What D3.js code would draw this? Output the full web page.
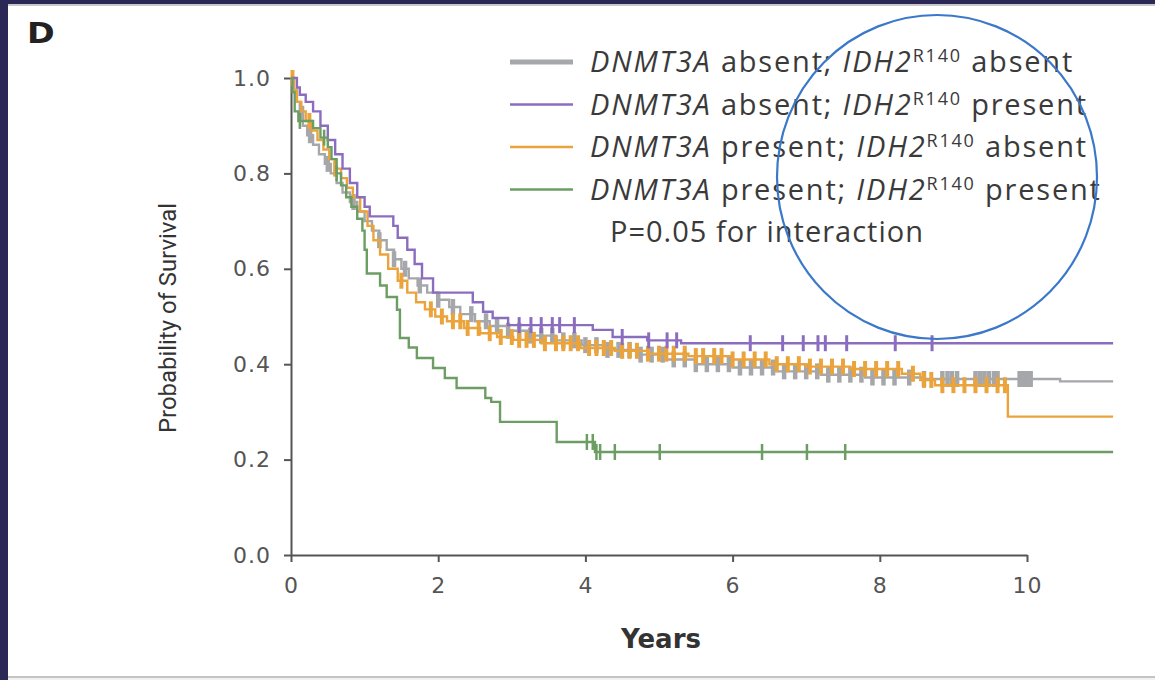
<!DOCTYPE html>
<html>
<head>
<meta charset="utf-8">
<script src="https://cdn.jsdelivr.net/npm/d3@7"></script>
<style>
	body { margin: 0; background: #fff; }
	svg { display: block; }
	.tick text { font-family: 'DejaVu Sans', Verdana, sans-serif; font-size: 22px; fill: #555; letter-spacing: 1px; }
	.axis path, .axis line { stroke: #555; stroke-width: 2; }
	.legend text { font-family: 'Open Sans', 'Noto Sans', sans-serif; font-size: 29px; fill: #3a3a3a; letter-spacing: 1.8px; }
	.legend text.pval { letter-spacing: 1px; }
</style>
</head>
<body>
<div id="chart"></div>
<script>
let width = 1155
let height = 680

// series: [years, survival] after each step
let grayPts = [[0,1],[0.04,0.975],[0.08,0.95],[0.12,0.925],[0.16,0.9],[0.22,0.88],[0.3,0.86],[0.38,0.84],[0.46,0.82],[0.54,0.8],[0.62,0.78],[0.7,0.76],[0.8,0.74],[0.9,0.72],[1.0,0.7],[1.1,0.68],[1.2,0.66],[1.3,0.64],[1.4,0.62],[1.5,0.6],[1.6,0.58],[1.72,0.565],[1.85,0.55],[2.0,0.535],[2.15,0.52],[2.3,0.505],[2.5,0.49],[2.7,0.48],[2.95,0.47],[3.25,0.46],[3.6,0.45],[3.95,0.44],[4.3,0.43],[4.7,0.42],[5.1,0.41],[5.5,0.4],[6.0,0.393],[6.6,0.385],[7.2,0.378],[7.8,0.372],[8.6,0.369],[10.45,0.364]]
let purplePts = [[0,1],[0.08,0.98],[0.12,0.965],[0.2,0.95],[0.3,0.93],[0.4,0.9],[0.5,0.87],[0.6,0.84],[0.7,0.81],[0.8,0.78],[0.9,0.75],[1.0,0.73],[1.07,0.71],[1.39,0.69],[1.45,0.665],[1.58,0.64],[1.68,0.61],[1.78,0.58],[1.93,0.55],[2.47,0.53],[2.61,0.51],[2.74,0.497],[2.95,0.482],[4.1,0.472],[4.37,0.457],[4.84,0.45],[5.3,0.444]]
let orangePts = [[0,1],[0.04,0.975],[0.08,0.95],[0.14,0.93],[0.2,0.91],[0.28,0.89],[0.36,0.87],[0.44,0.85],[0.52,0.83],[0.6,0.81],[0.68,0.79],[0.76,0.77],[0.84,0.75],[0.94,0.72],[1.04,0.69],[1.12,0.66],[1.21,0.63],[1.32,0.6],[1.45,0.575],[1.58,0.55],[1.7,0.53],[1.82,0.515],[1.96,0.5],[2.12,0.49],[2.35,0.476],[2.57,0.465],[2.8,0.457],[3.02,0.451],[3.4,0.444],[3.93,0.434],[4.4,0.428],[4.84,0.422],[5.4,0.417],[6.0,0.41],[6.5,0.4],[7.0,0.395],[7.6,0.39],[8.3,0.38],[8.55,0.367],[8.75,0.356],[9.74,0.29]]
let greenPts = [[0,1],[0.02,0.97],[0.05,0.93],[0.1,0.91],[0.3,0.895],[0.4,0.875],[0.5,0.855],[0.55,0.83],[0.62,0.8],[0.68,0.775],[0.75,0.75],[0.82,0.73],[0.9,0.705],[0.97,0.68],[1.0,0.64],[1.03,0.59],[1.21,0.565],[1.3,0.541],[1.44,0.514],[1.48,0.455],[1.6,0.435],[1.71,0.413],[1.93,0.392],[2.09,0.371],[2.25,0.35],[2.64,0.329],[2.72,0.321],[2.84,0.279],[3.61,0.237],[4.13,0.216]]

// censoring times
let grayCens = [0.15,0.26,0.5,0.85,1.2,1.4,1.55,1.75,2.0,2.2,2.45,2.65,2.8,2.95,3.1,3.25,3.4,3.55,3.7,3.85,4.0,4.15,4.3,4.45,4.6,4.75,4.9,5.05,5.2,5.35,5.5,5.65,5.8,5.95,6.1,6.25,6.4,6.55,6.7,6.85,7.0,7.15,7.3,7.45,7.6,7.75,7.9,8.05,8.2,8.4,8.6,8.85,8.92,8.98,9.05,9.3,9.36,9.42,9.48,9.55,9.6,9.9,9.95,10.0,10.05]
let orangeCens = [0.02,0.25,0.6,1.5,1.9,2.05,2.2,2.3,2.4,2.55,2.7,2.85,3.0,3.1,3.2,3.3,3.45,3.6,3.7,3.8,3.9,4.05,4.15,4.25,4.35,4.5,4.6,4.7,4.85,5.0,5.1,5.2,5.35,5.5,5.6,5.75,5.85,6.0,6.15,6.3,6.45,6.6,6.75,6.9,7.05,7.2,7.35,7.5,7.65,7.8,7.95,8.1,8.25,8.45,8.6,8.7,8.85,9.0,9.15,9.3,9.45,9.6,9.7]
let purpleCens = [3.1,3.26,3.4,3.55,3.65,3.85,4.5,4.86,5.11,5.24,6.24,6.68,6.96,7.16,7.26,7.55,8.21,8.71]
let greenCens = [0.12,0.45,0.62,4.02,4.1,4.15,4.2,4.4,5.01,6.4,7.01,7.53]

let lastYear = 11.17
let yTicks = [0, 0.2, 0.4, 0.6, 0.8, 1.0]
let xTicks = [0, 2, 4, 6, 8, 10]

let groups = [
	{ 'dnmt': 'absent', 'idh': 'absent', 'pts': grayPts, 'cens': grayCens, 'color': '#a5a7aa', 'cw': 4.5 },
	{ 'dnmt': 'absent', 'idh': 'present', 'pts': purplePts, 'cens': purpleCens, 'color': '#8b6dbf', 'cw': 3 },
	{ 'dnmt': 'present', 'idh': 'absent', 'pts': orangePts, 'cens': orangeCens, 'color': '#eba33c', 'cw': 4 },
	{ 'dnmt': 'present', 'idh': 'present', 'pts': greenPts, 'cens': greenCens, 'color': '#6c9e64', 'cw': 2.5 },
]
let drawOrder = [0, 2, 1, 3]

let xScale = d3.scaleLinear()
	.domain([0,10])
	.range([291,1027])

let yScale = d3.scaleLinear()
	.domain([0,1])
	.range([555,78])

let svg = d3.select('#chart').append('svg')
	.attr('width',width)
	.attr('height',height)

// frame
svg.append('rect').attr('x',0).attr('y',0).attr('width',width).attr('height',4).attr('fill','#2b2757')
svg.append('rect').attr('x',0).attr('y',4).attr('width',width).attr('height',2).attr('fill','#c9c9cc')
svg.append('rect').attr('x',0).attr('y',0).attr('width',8).attr('height',height).attr('fill','#2b2757')
svg.append('rect').attr('x',8).attr('y',676).attr('width',width).attr('height',2).attr('fill','#c4c4c6')
svg.append('rect').attr('x',8).attr('y',678).attr('width',width).attr('height',2).attr('fill','#f2f2f2')

svg.append('text')
	.attr('x',27).attr('y',43)
	.style('font-family','DejaVu Sans, sans-serif')
	.style('font-weight','bold')
	.style('font-size','29px')
	.attr('transform','translate(27,0) scale(1.15,1) translate(-27,0)')
	.attr('fill','#222')
	.text('D')

let axisShell = svg.append('g')

axisShell.append('g')
	.attr('class','axis')
	.attr('transform','translate(0,555)')
	.call(d3.axisBottom(xScale).tickValues(xTicks).tickSize(7).tickSizeOuter(0).tickPadding(15))

axisShell.append('g')
	.attr('class','axis')
	.attr('transform','translate(291,0)')
	.call(d3.axisLeft(yScale).tickValues(yTicks).tickSize(7).tickSizeOuter(0).tickPadding(13).tickFormat(d3.format('.1f')))

svg.append('text')
	.attr('transform','translate(176,318) rotate(-90)')
	.attr('text-anchor','middle')
	.attr('textLength',230)
	.attr('lengthAdjust','spacingAndGlyphs')
	.style('font-family','Liberation Sans Narrow, Roboto, sans-serif')
	.style('font-size','24px')
	.attr('fill','#333')
	.text('Probability of Survival')

svg.append('text')
	.attr('x',661).attr('y',648)
	.attr('text-anchor','middle')
	.style('font-family','DejaVu Sans, sans-serif')
	.style('font-weight','bold')
	.style('font-size','26px')
	.attr('fill','#333')
	.text('Years')

let survAt = (pts, t) => {
	let i = d3.bisector((d) => d[0]).right(pts, t) - 1
	return pts[Math.max(i,0)][1]
}

let line = d3.line()
	.x((d) => xScale(d[0]))
	.y((d) => yScale(d[1]))
	.curve(d3.curveStepAfter)

let marks = svg.append('g')

drawOrder.forEach((k) => {
	let g = groups[k]
	let pts = g.pts.concat([[lastYear, g.pts[g.pts.length-1][1]]])
	let mg = marks.append('g')
	mg.append('path')
		.attr('d', line(pts))
		.attr('fill','none')
		.attr('stroke', g.color)
		.attr('stroke-width', 2.4)
	mg.selectAll('line')
		.data(g.cens)
		.enter().append('line')
		.attr('x1', (d) => xScale(d))
		.attr('x2', (d) => xScale(d))
		.attr('y1', (d) => yScale(survAt(g.pts, d)) - 8)
		.attr('y2', (d) => yScale(survAt(g.pts, d)) + 8)
		.attr('stroke', g.color)
		.attr('stroke-width', g.cw)
})

// legend
let legend = svg.append('g').attr('class','legend')
groups.forEach((g, i) => {
	let yy = 62 + i*42.5
	legend.append('line')
		.attr('x1',510).attr('x2',573)
		.attr('y1',yy).attr('y2',yy)
		.attr('stroke',g.color)
		.attr('stroke-width', i == 0 ? 5 : 2.5)
	let t = legend.append('text').attr('x',590).attr('y',yy+10)
	t.append('tspan').style('font-style','italic').text('DNMT3A')
	t.append('tspan').text(' ' + g.dnmt + '; ')
	t.append('tspan').style('font-style','italic').text('IDH2')
	t.append('tspan').attr('dy',-10).style('font-size','18px').text('R140')
	t.append('tspan').attr('dy',10).text(' ' + g.idh)
})
legend.append('text')
	.attr('class','pval')
	.attr('x',610).attr('y',242)
	.text('P=0.05 for interaction')

svg.append('ellipse')
	.attr('cx',937).attr('cy',177)
	.attr('rx',160).attr('ry',162)
	.attr('fill','none')
	.attr('stroke','#3b78c9')
	.attr('stroke-width',2.2)
</script>
</body>
</html>
